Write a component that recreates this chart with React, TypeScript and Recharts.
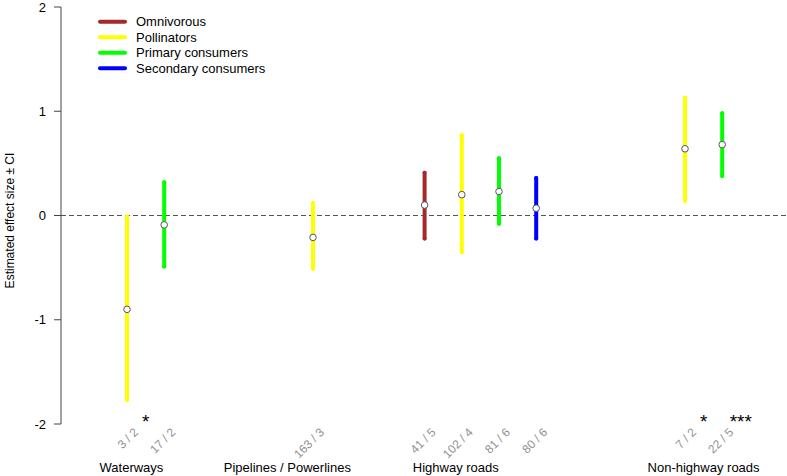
import {
  ComposedChart,
  Scatter,
  ErrorBar,
  XAxis,
  YAxis,
  ReferenceLine,
  Legend,
} from "recharts";

// one entry per estimate, left to right
const positions = [1, 2, 6, 9, 10, 11, 12, 16, 17];
const groupOf = [
  "Pollinators",
  "Primary consumers",
  "Pollinators",
  "Omnivorous",
  "Pollinators",
  "Primary consumers",
  "Secondary consumers",
  "Pollinators",
  "Primary consumers",
];
const estimates = [-0.9, -0.09, -0.21, 0.1, 0.2, 0.23, 0.07, 0.64, 0.68];
const lowerCI = [-1.77, -0.49, -0.51, -0.22, -0.35, -0.08, -0.22, 0.14, 0.38];
const upperCI = [-0.01, 0.32, 0.12, 0.41, 0.77, 0.55, 0.36, 1.13, 0.98];
const sampleLabels = ["3 / 2", "17 / 2", "163 / 3", "41 / 5", "102 / 4", "81 / 6", "80 / 6", "7 / 2", "22 / 5"];
const stars = ["*", "", "", "", "", "", "", "*", "***"];

const seriesNames = ["Omnivorous", "Pollinators", "Primary consumers", "Secondary consumers"];
const seriesColors = ["#A52A2A", "#FFFF00", "#00FF00", "#0000FF"];

const habitats = ["Waterways", "Pipelines / Powerlines", "Highway roads", "Non-highway roads"];
const habitatPos = [1.12, 5.31, 9.84, 16.5];

const yTicks = [-2, -1, 0, 1, 2];
const xDomain = [-0.774, 18.742];
const FONT = "'Liberation Sans', Arial, sans-serif";

const rowsFor = (name: string) =>
  positions
    .map((x, i) => ({
      x,
      est: estimates[i],
      err: [estimates[i] - lowerCI[i], upperCI[i] - estimates[i]],
      g: groupOf[i],
    }))
    .filter((r) => r.g === name);

// anchors the habitat axis so it gets a scale
const habitatRows = habitatPos.map((x) => ({ x, est: -2 }));

const SampleTick = (props: any) => {
  const { x, y, payload } = props;
  const i = positions.indexOf(payload.value);
  const ax = x + 12;
  const ay = y + 9;
  return (
    <g>
      <text
        x={ax}
        y={ay}
        transform={`rotate(-45 ${ax} ${ay})`}
        textAnchor="end"
        fill="#939393"
        fontSize={12}
        fontFamily={FONT}
      >
        {sampleLabels[i]}
      </text>
      {stars[i] ? (
        <text x={x + 18.6} y={y + 3.5} textAnchor="middle" fontSize={19} fontFamily={FONT} fill="#000">
          {stars[i]}
        </text>
      ) : null}
    </g>
  );
};

const HabitatTick = (props: any) => {
  const { x, y, payload, index } = props;
  let i = habitatPos.indexOf(payload.value);
  if (i < 0) i = index;
  return (
    <text x={x} y={y + 17.5} textAnchor="middle" fontSize={13} fontFamily={FONT} fill="#000">
      {habitats[i]}
    </text>
  );
};

const LegendBox = () => (
  <svg width={200} height={64}>
    {seriesNames.map((n, i) => (
      <g key={n}>
        <line
          x1={3}
          x2={28}
          y1={7.7 + i * 15.5}
          y2={7.7 + i * 15.5}
          stroke={seriesColors[i]}
          strokeWidth={4}
          strokeLinecap="round"
        />
        <text x={39} y={7.7 + i * 15.5} dominantBaseline="central" fontSize={13} fontFamily={FONT} fill="#000">
          {n}
        </text>
      </g>
    ))}
  </svg>
);

const YLabel = (props: any) => {
  const vb = props.viewBox || { x: 0, y: 7, width: 61, height: 417 };
  const cx = vb.x + 9.5;
  const cy = vb.y + vb.height / 2 + 5;
  return (
    <text
      x={cx}
      y={cy}
      transform={`rotate(-90 ${cx} ${cy})`}
      textAnchor="middle"
      dominantBaseline="central"
      fontSize={12}
      fontFamily={FONT}
      fill="#000"
    >
      Estimated effect size ± CI
    </text>
  );
};

const Dot = (props: any) => (
  <circle cx={props.cx} cy={props.cy} r={3.3} fill="#fff" stroke="#555" strokeWidth={1} />
);

const NoDot = () => <g />;

export default function App() {
  return (
    <div style={{ position: "absolute", left: 0, top: 0, fontFamily: FONT }}>
      <ComposedChart width={787} height={476} margin={{ top: 7, right: 0, left: 0, bottom: 0 }}>
        <XAxis
          xAxisId="a1"
          dataKey="x"
          type="number"
          domain={xDomain}
          allowDataOverflow
          ticks={positions}
          interval={0}
          tick={<SampleTick />}
          tickSize={0}
          tickMargin={0}
          axisLine={false}
          tickLine={false}
          height={30}
        />
        <XAxis
          xAxisId="b2"
          dataKey="x"
          type="number"
          domain={xDomain}
          allowDataOverflow
          ticks={habitatPos}
          interval={0}
          tick={<HabitatTick />}
          tickSize={0}
          tickMargin={0}
          axisLine={false}
          tickLine={false}
          height={22}
        />
        <YAxis
          type="number"
          domain={[-2, 2]}
          ticks={yTicks}
          interval={0}
          width={61}
          tickSize={7}
          tickMargin={8}
          stroke="#444"
          tick={{ fill: "#000", fontSize: 13, fontFamily: FONT }}
          label={{ content: <YLabel /> }}
        />
        <ReferenceLine xAxisId="a1" y={0} stroke="#555" strokeDasharray="5 3" strokeWidth={1} />
        <Scatter
          xAxisId="b2"
          data={habitatRows}
          dataKey="est"
          shape={<NoDot />}
          legendType="none"
          isAnimationActive={false}
        />
        {seriesNames.map((n, i) => (
          <Scatter
            key={n}
            name={n}
            xAxisId="a1"
            data={rowsFor(n)}
            dataKey="est"
            fill="#fff"
            shape={<Dot />}
            isAnimationActive={false}
          >
            <ErrorBar
              dataKey="err"
              direction="y"
              width={0}
              stroke={seriesColors[i]}
              strokeWidth={4}
              strokeLinecap="round"
              isAnimationActive={false}
            />
          </Scatter>
        ))}
        <Legend
          layout="vertical"
          align="center"
          verticalAlign="middle"
          content={<LegendBox />}
          wrapperStyle={{ top: 14, left: 97, width: 200, height: 64 }}
        />
      </ComposedChart>
    </div>
  );
}
